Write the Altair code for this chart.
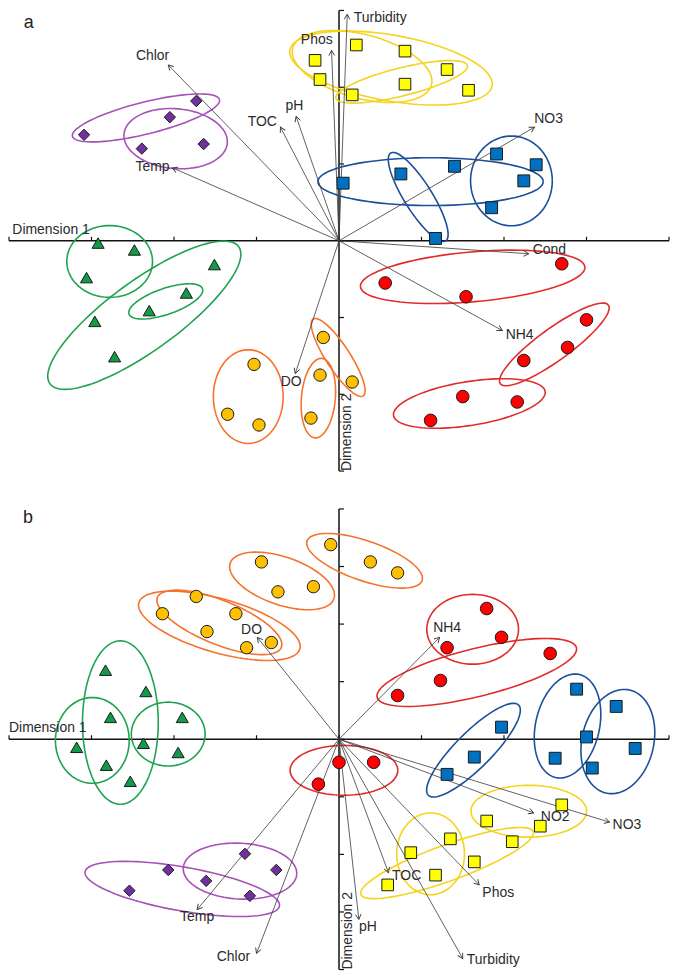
import numpy as np
import pandas as pd
import altair as alt

# ---------------- layout constants ----------------
W = 662
H = 462
XDOM = [-4, 4]
YDOM_A = [-3, 3]
YDOM_B = [-4, 4]
KX = W / (XDOM[1] - XDOM[0])
KY_A = H / (YDOM_A[1] - YDOM_A[0])
KY_B = H / (YDOM_B[1] - YDOM_B[0])

GROUPS = ["purple", "yellow", "blue", "green", "orange", "red"]
FILLS = ["#7030A0", "#FFFF00", "#0070C0", "#119B48", "#FFC000", "#FF0000"]
ELL_COLORS = ["#A652B8", "#F5D31E", "#1B4F9C", "#1FA350", "#F5732D", "#E32B2B"]
SHAPES = ["diamond", "square", "square", "triangle-up", "circle", "circle"]
SIZES = [130, 160, 160, 145, 130, 130]

# ---------------- panel a data ----------------
A_PUR_X = [-1.73, -2.05, -3.09, -2.39, -1.64]
A_PUR_Y = [1.82, 1.61, 1.38, 1.20, 1.26]
A_YEL_X = [-0.29, -0.23, 0.21, 0.80, 1.31, 0.80, 0.16, 1.57]
A_YEL_Y = [2.35, 2.10, 2.55, 2.47, 2.23, 2.04, 1.90, 1.96]
A_BLU_X = [0.05, 0.75, 1.40, 1.91, 2.39, 2.24, 1.85, 1.17]
A_BLU_Y = [0.75, 0.87, 0.97, 1.13, 0.99, 0.78, 0.43, 0.03]
A_GRN_X = [-2.92, -2.48, -3.06, -1.51, -1.85, -2.30, -2.96, -2.72]
A_GRN_Y = [-0.03, -0.12, -0.48, -0.31, -0.68, -0.91, -1.05, -1.51]
A_ORG_X = [-0.19, -0.23, -0.34, -1.03, -1.35, -0.97, 0.16]
A_ORG_Y = [-1.26, -1.75, -2.31, -1.61, -2.26, -2.40, -1.84]
A_RED_X = [0.56, 1.54, 2.70, 3.00, 2.77, 2.24, 1.50, 2.16, 1.11]
A_RED_Y = [-0.55, -0.73, -0.30, -1.03, -1.39, -1.56, -2.03, -2.10, -2.34]

A_VAR = ["Chlor", "Temp", "TOC", "pH", "Phos", "Turbidity", "NO3", "Cond", "NH4", "DO"]
A_VX = [-2.07, -2.02, -0.71, -0.52, -0.09, 0.10, 2.37, 2.30, 1.98, -0.53]
A_VY = [2.29, 0.95, 1.48, 1.62, 2.48, 2.95, 1.48, -0.17, -1.17, -1.73]
A_LX = [-2.26, -2.26, -0.93, -0.54, -0.27, 0.50, 2.54, 2.55, 2.19, -0.58]
A_LY = [2.40, 0.96, 1.55, 1.75, 2.61, 2.90, 1.58, -0.12, -1.23, -1.84]

A_E_GROUP = ["purple", "purple", "yellow", "yellow", "yellow", "blue", "blue", "blue",
             "green", "green", "green", "orange", "orange", "orange", "red", "red", "red"]
A_E_CX = [-2.34, -1.98, 0.63, 0.28, 0.76, 1.11, 0.96, 2.09, -2.78, -2.36, -2.10,
          -1.10, -0.25, -0.01, 1.62, 2.61, 1.58]
A_E_CY = [1.60, 1.33, 2.25, 2.27, 2.07, 0.77, 0.57, 0.78, -0.27, -0.97, -0.79,
          -2.03, -2.05, -1.52, -0.47, -1.35, -2.12]
A_E_RA = [76, 52, 103, 72, 68, 113, 52, 41, 43, 117, 39, 35, 17, 46, 113, 67, 77]
A_E_RB = [16, 30, 33, 32, 14, 24, 14, 45, 36, 35, 13, 47, 40, 12, 25, 16, 22]
A_E_ANG = [14, -5, -10, -15, 14, 0, -58, 0, 0, 36, 19, 0, -5, -57, 5, 36, 9]

# ---------------- panel b data ----------------
B_PUR_X = [-1.14, -0.76, -2.07, -1.61, -2.54, -1.08]
B_PUR_Y = [-1.99, -2.27, -2.27, -2.46, -2.63, -2.72]
B_YEL_X = [2.70, 2.44, 1.79, 2.10, 1.35, 0.87, 1.64, 1.17, 0.59]
B_YEL_Y = [-1.14, -1.51, -1.42, -1.78, -1.73, -1.97, -2.13, -2.36, -2.53]
B_BLU_X = [1.97, 1.64, 1.31, 2.88, 3.36, 3.00, 3.59, 2.62, 3.07]
B_BLU_Y = [0.21, -0.31, -0.61, 0.87, 0.57, 0.04, -0.16, -0.33, -0.50]
B_GRN_X = [-2.83, -2.34, -2.77, -1.90, -3.18, -2.37, -1.95, -2.82, -2.53]
B_GRN_Y = [1.20, 0.83, 0.38, 0.38, -0.14, -0.07, -0.23, -0.45, -0.73]
B_ORG_X = [-0.10, 0.38, 0.71, -0.94, -0.74, -0.31, -1.73, -2.14, -1.25, -1.60, -1.12, -0.82]
B_ORG_Y = [3.38, 3.08, 2.89, 3.08, 2.56, 2.65, 2.48, 2.18, 2.18, 1.87, 1.59, 1.68]
B_RED_X = [1.79, 1.97, 1.31, 2.56, 1.23, 0.71, 0.00, 0.42, -0.25]
B_RED_Y = [2.27, 1.77, 1.59, 1.49, 1.02, 0.76, -0.40, -0.40, -0.78]

B_VAR = ["DO", "NH4", "Temp", "Chlor", "TOC", "pH", "Turbidity", "Phos", "NO2", "NO3"]
B_VX = [-0.99, 1.22, -1.72, -1.00, 0.60, 0.24, 1.50, 1.70, 2.36, 3.28]
B_VY = [1.77, 1.77, -2.96, -3.72, -2.32, -3.13, -3.81, -2.53, -1.28, -1.44]
B_LX = [-1.06, 1.31, -1.72, -1.28, 0.82, 0.35, 1.87, 1.93, 2.62, 3.49]
B_LY = [1.89, 1.94, -3.08, -3.79, -2.37, -3.26, -3.83, -2.67, -1.35, -1.49]

B_E_GROUP = ["orange", "orange", "orange", "orange", "green", "green", "green",
             "red", "red", "red", "blue", "blue", "blue", "purple", "purple",
             "yellow", "yellow", "yellow"]
B_E_CX = [0.31, -0.69, -1.45, -1.45, -2.65, -2.99, -2.07, 1.62, 1.67, 0.06,
          1.63, 2.77, 3.38, -1.90, -1.20, 1.11, 1.31, 2.30]
B_E_CY = [3.10, 2.75, 1.97, 2.03, 0.29, -0.02, 0.09, 1.91, 1.16, -0.54,
          -0.19, 0.23, -0.04, -2.60, -2.29, -1.99, -2.15, -1.25]
B_E_RA = [61, 55, 84, 67, 38, 37, 37, 46, 103, 54, 64, 53, 53, 99, 57, 34, 92, 58]
B_E_RB = [20, 24, 27, 22, 82, 43, 32, 35, 24, 25, 18, 32, 36, 22, 28, 41, 18, 26]
B_E_ANG = [-19, -19, -16, -22, 0, 0, 0, 0, 14, 0, 45, 77, 77, -10, -3, 0, 20, 0]

FONT = "Liberation Sans"
TXT = "#2b2b2b"
ARROW_PATH = "M -0.55 1 L 0 0 L 0.55 1"


def points_df(spec):
    rows = []
    for g, xs, ys in spec:
        for x, y in zip(xs, ys):
            rows.append({"group": g, "x": x, "y": y})
    return pd.DataFrame(rows)


def ellipse_df(groups, cx, cy, ra, rb, ang, ky, n=96):
    t = np.linspace(0, 2 * np.pi, n + 1)
    rows = []
    for i, (g, x0, y0, a, b, th) in enumerate(zip(groups, cx, cy, ra, rb, ang)):
        th = np.radians(th)
        ex = a * np.cos(t) * np.cos(th) - b * np.sin(t) * np.sin(th)
        ey = a * np.cos(t) * np.sin(th) + b * np.sin(t) * np.cos(th)
        for k in range(n + 1):
            rows.append({"eid": i, "group": g, "k": k,
                         "x": x0 + ex[k] / KX, "y": y0 + ey[k] / ky})
    return pd.DataFrame(rows)


def arrows_df(names, vx, vy, lx, ly, ky):
    df = pd.DataFrame({"var": names, "x": vx, "y": vy, "lx": lx, "ly": ly})
    df["x0"] = 0.0
    df["y0"] = 0.0
    df["ang"] = (np.degrees(np.arctan2(df["x"] * KX, df["y"] * ky)) + 360) % 360
    return df


def panel(pts, ells, arr, ydom, letter, letter_xy, dim1_xy, dim2_xy):
    xs = alt.Scale(domain=XDOM, nice=False, zero=False)
    ys = alt.Scale(domain=ydom, nice=False, zero=False)

    def X(f):
        return alt.X(f"{f}:Q", scale=xs, axis=None)

    def Y(f):
        return alt.Y(f"{f}:Q", scale=ys, axis=None)

    axes_data = pd.DataFrame({"x": [XDOM[0], 0.0], "x2": [XDOM[1], 0.0],
                              "y": [0.0, ydom[0]], "y2": [0.0, ydom[1]]})
    axes = alt.Chart(axes_data).mark_rule(color="#111111", strokeWidth=1.5).encode(
        x=X("x"), x2="x2:Q", y=Y("y"), y2="y2:Q")

    xt = pd.DataFrame({"x": [float(v) for v in range(XDOM[0], XDOM[1] + 1)], "y": 0.0})
    xticks = alt.Chart(xt).mark_rule(color="#111111", strokeWidth=1.2, yOffset=-4).encode(
        x=X("x"), y=Y("y"), y2="y:Q")
    yt = pd.DataFrame({"y": [float(v) for v in range(ydom[0], ydom[1] + 1)], "x": 0.0})
    yticks = alt.Chart(yt).mark_rule(color="#111111", strokeWidth=1.2, x2Offset=5).encode(
        x=X("x"), x2="x:Q", y=Y("y"))

    ell = alt.Chart(ells).mark_line(strokeWidth=1.6).encode(
        x=X("x"), y=Y("y"), detail="eid:N", order="k:Q",
        stroke=alt.Stroke("group:N", scale=alt.Scale(domain=GROUPS, range=ELL_COLORS), legend=None))

    lines = alt.Chart(arr).mark_rule(color="#3a3a3a", strokeWidth=0.8).encode(
        x=X("x0"), y=Y("y0"), x2="x:Q", y2="y:Q")

    heads = alt.Chart(arr).mark_point(shape=ARROW_PATH, filled=False, size=110,
                                      stroke="#3a3a3a", strokeWidth=0.9, opacity=1).encode(
        x=X("x"), y=Y("y"), angle=alt.Angle("ang:Q", scale=None))

    pts_layer = alt.Chart(pts).mark_point(filled=True, stroke="#1a1a1a", strokeWidth=1,
                                          opacity=1).encode(
        x=X("x"), y=Y("y"),
        fill=alt.Fill("group:N", scale=alt.Scale(domain=GROUPS, range=FILLS), legend=None),
        shape=alt.Shape("group:N", scale=alt.Scale(domain=GROUPS, range=SHAPES), legend=None),
        size=alt.Size("group:N", scale=alt.Scale(domain=GROUPS, range=SIZES), legend=None))

    labels = alt.Chart(arr).mark_text(font=FONT, fontSize=14, color=TXT,
                                      align="center", baseline="middle").encode(
        x=X("lx"), y=Y("ly"), text="var:N")

    misc = pd.DataFrame({"t": [letter], "x": [letter_xy[0]], "y": [letter_xy[1]]})
    letter_layer = alt.Chart(misc).mark_text(font=FONT, fontSize=18, color="#222222",
                                             align="center", baseline="middle").encode(
        x=X("x"), y=Y("y"), text="t:N")

    d1 = pd.DataFrame({"t": ["Dimension 1"], "x": [dim1_xy[0]], "y": [dim1_xy[1]]})
    dim1 = alt.Chart(d1).mark_text(font=FONT, fontSize=14, color=TXT,
                                   align="center", baseline="middle").encode(
        x=X("x"), y=Y("y"), text="t:N")
    d2 = pd.DataFrame({"t": ["Dimension 2"], "x": [dim2_xy[0]], "y": [dim2_xy[1]]})
    dim2 = alt.Chart(d2).mark_text(font=FONT, fontSize=14, color=TXT, angle=270,
                                   align="left", baseline="middle").encode(
        x=X("x"), y=Y("y"), text="t:N")

    return alt.layer(axes, xticks, yticks, ell, lines, pts_layer, heads, labels,
                     letter_layer, dim1, dim2).properties(width=W, height=H)


pts_a = points_df([("purple", A_PUR_X, A_PUR_Y), ("yellow", A_YEL_X, A_YEL_Y),
                   ("blue", A_BLU_X, A_BLU_Y), ("green", A_GRN_X, A_GRN_Y),
                   ("orange", A_ORG_X, A_ORG_Y), ("red", A_RED_X, A_RED_Y)])
pts_b = points_df([("purple", B_PUR_X, B_PUR_Y), ("yellow", B_YEL_X, B_YEL_Y),
                   ("blue", B_BLU_X, B_BLU_Y), ("green", B_GRN_X, B_GRN_Y),
                   ("orange", B_ORG_X, B_ORG_Y), ("red", B_RED_X, B_RED_Y)])

ell_a = ellipse_df(A_E_GROUP, A_E_CX, A_E_CY, A_E_RA, A_E_RB, A_E_ANG, KY_A)
ell_b = ellipse_df(B_E_GROUP, B_E_CX, B_E_CY, B_E_RA, B_E_RB, B_E_ANG, KY_B)

arr_a = arrows_df(A_VAR, A_VX, A_VY, A_LX, A_LY, KY_A)
arr_b = arrows_df(B_VAR, B_VX, B_VY, B_LX, B_LY, KY_B)

panel_a = panel(pts_a, ell_a, arr_a, YDOM_A, "a", (-3.76, 2.84), (-3.49, 0.14), (0.10, -3.0))
panel_b = panel(pts_b, ell_b, arr_b, YDOM_B, "b", (-3.77, 3.84), (-3.53, 0.19), (0.11, -4.0))

chart = alt.vconcat(panel_a, panel_b, spacing=38, bounds="flush").properties(
    padding=0).configure_view(strokeWidth=0)

chart.save("out.html", embed_options={"renderer": "svg", "actions": False})
